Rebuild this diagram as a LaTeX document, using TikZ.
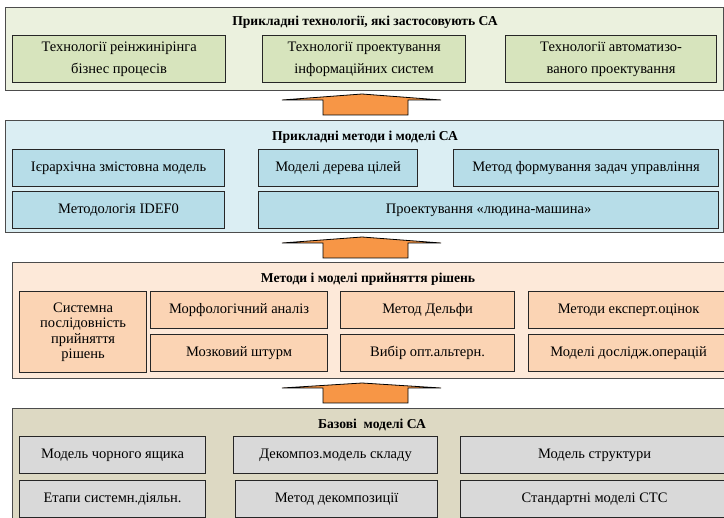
\documentclass[tikz,border=0pt]{standalone}
\usepackage{fontspec}
\setmainfont{Liberation Serif}
\definecolor{grnbg}{HTML}{EBF1DE}
\definecolor{grnbox}{HTML}{D7E4BD}
\definecolor{blubg}{HTML}{DBEEF3}
\definecolor{blubox}{HTML}{B7DDE8}
\definecolor{pchbg}{HTML}{FDE9D9}
\definecolor{pchbox}{HTML}{FBD4B4}
\definecolor{tanbg}{HTML}{DDD9C3}
\definecolor{grybox}{HTML}{D9D9D9}
\definecolor{arrorange}{HTML}{F79646}
\begin{document}
\begin{tikzpicture}
      [x=1pt, y=-1pt,
      panel/.style={draw=black!70, line width=0.8pt, anchor=north west, inner sep=0pt},
      box/.style={draw=black!85, line width=1.2pt, anchor=north west, align=center,
        inner sep=0pt, font=\fontsize{14.5}{17}\selectfont},
      title/.style={font=\bfseries\fontsize{13.6}{15}\selectfont},
      arr/.style={draw=black, fill=arrorange, line width=0.8pt, line join=miter}]
      \useasboundingbox (0,0) rectangle (724,518);
      % applied technologies
      \node[panel, fill=grnbg, minimum width=718, minimum height=83] (tech) at (5,7) {};
      \node[title] (techT) at (365,22) {Прикладні технології, які застосовують СА};
      \node[box, fill=grnbox, minimum width=213, minimum height=47,
        font=\fontsize{14.5}{22}\selectfont] (reeng) at (12,35)
        {Технології реінжинірінга\\бізнес процесів};
      \node[box, fill=grnbox, minimum width=203, minimum height=47,
        font=\fontsize{14.5}{22}\selectfont] (infsys) at (262,35)
        {Технології проектування\\інформаційних систем};
      \node[box, fill=grnbox, minimum width=211, minimum height=47,
        font=\fontsize{14.5}{22}\selectfont] (cad) at (505,35)
        {Технології автоматизо-\\ваного проектування};
      \draw[arr] (323,115) -- (323,100) -- (282,100) -- (362,94)
        -- (441,100) -- (408,100) -- (408,115) -- cycle;
      % applied methods
      \node[panel, fill=blubg, minimum width=718, minimum height=112] (meth) at (5,120) {};
      \node[title] (methT) at (365,137) {Прикладні методи і моделі СА};
      \node[box, fill=blubox, minimum width=212, minimum height=37] (hier) at (12,149) {Ієрархічна змістовна модель};
      \node[box, fill=blubox, minimum width=159, minimum height=37] (goal) at (258,149) {Моделі дерева цілей};
      \node[box, fill=blubox, minimum width=265, minimum height=37] (task) at (453,149) {Метод формування задач управління};
      \node[box, fill=blubox, minimum width=212, minimum height=37] (idef) at (12,191) {Методологія IDEF0};
      \node[box, fill=blubox, minimum width=460, minimum height=37] (hmm) at (258,191) {Проектування «людина-машина»};
      \draw[arr] (323,258) -- (323,243) -- (282,243) -- (362,237)
        -- (441,243) -- (408,243) -- (408,258) -- cycle;
      % decision making
      \node[panel, fill=pchbg, minimum width=720, minimum height=116] (dec) at (12,262) {};
      \node[title] (decT) at (368,279) {Методи і моделі прийняття рішень};
      \node[box, fill=pchbox, minimum width=127, minimum height=81,
        font=\fontsize{14.5}{15.5}\selectfont] (seq) at (19,291)
        {Системна\\послідовність\\прийняття\\рішень};
      \node[box, fill=pchbox, minimum width=177, minimum height=37] (morph) at (150,291) {Морфологічний аналіз};
      \node[box, fill=pchbox, minimum width=174, minimum height=37] (delph) at (340,291) {Метод Дельфи};
      \node[box, fill=pchbox, minimum width=200, minimum height=37] (expert) at (528,291) {Методи експерт.оцінок};
      \node[box, fill=pchbox, minimum width=177, minimum height=37] (brain) at (150,334) {Мозковий штурм};
      \node[box, fill=pchbox, minimum width=174, minimum height=37] (alt) at (340,334) {Вибір опт.альтерн.};
      \node[box, fill=pchbox, minimum width=200, minimum height=37] (oper) at (528,334) {Моделі дослідж.операцій};
      \draw[arr] (323,403) -- (323,388) -- (282,388) -- (362,383)
        -- (441,388) -- (408,388) -- (408,403) -- cycle;
      % base models
      \node[panel, fill=tanbg, minimum width=720, minimum height=120] (base) at (12,408) {};
      \node[title] (baseT) at (372,425) {Базові\ \ моделі СА};
      \node[box, fill=grybox, minimum width=186, minimum height=37] (blackbox) at (19,436) {Модель чорного ящика};
      \node[box, fill=grybox, minimum width=204, minimum height=37] (decomp) at (233,436) {Декомпоз.модель складу};
      \node[box, fill=grybox, minimum width=268, minimum height=37] (struct) at (460,436) {Модель структури};
      \node[box, fill=grybox, minimum width=186, minimum height=37] (stages) at (19,480) {Етапи системн.діяльн.};
      \node[box, fill=grybox, minimum width=202, minimum height=37] (decmeth) at (235,480) {Метод декомпозиції};
      \node[box, fill=grybox, minimum width=268, minimum height=37] (stc) at (460,480) {Стандартні моделі СТС};
\end{tikzpicture}
\end{document}
